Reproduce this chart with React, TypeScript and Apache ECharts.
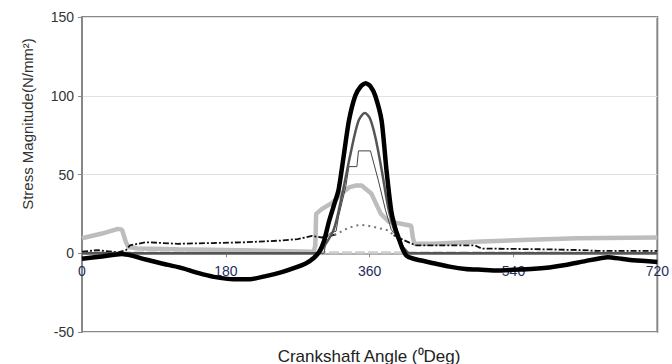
import React, { useEffect, useRef } from "react";
import * as echarts from "echarts";

const xTicks = [0, 180, 360, 540, 720];
const yTicks = [-50, 0, 50, 100, 150];

// Thick black series
const blackAngle = [0, 25, 50, 62, 80, 100, 122, 145, 165, 190, 210, 230, 250, 265, 280, 290, 297, 303, 309, 315, 321, 327, 334, 342, 349, 355, 361, 367, 375, 381, 387, 392, 396, 401, 406, 415, 437, 460, 480, 500, 520, 540, 562, 585, 605, 630, 658, 675, 690, 720];
const blackValue = [-3.5, -2, -0.5, -1.5, -4, -6.5, -9, -12.5, -15, -16.5, -16.5, -14.5, -12, -9.5, -6.5, -3, 1, 8, 20, 30, 40, 60, 84, 100, 106, 108, 106, 100, 84, 53, 27, 16, 10, 3, -1.5, -3.5, -6, -8.5, -10, -10.5, -11, -10.5, -10, -9, -7.5, -5, -2.5, -3.5, -4.5, -5.5];

// Dark grey medium series
const darkAngle = [0, 296, 300, 315, 325, 336, 346, 354, 360, 367, 375, 384, 392, 400, 405, 410, 720];
const darkValue = [0, 0, 2, 15, 36, 63, 84, 89, 86, 74, 53, 27, 13, 5, 2, 0, 0];

// Thin stepped series
const thinAngle = [0, 303, 306, 311, 318, 321, 330, 334, 344, 346, 361, 371, 380, 387, 390, 396, 398, 402, 406, 720];
const thinValue = [0, 0, 10, 13, 14, 23, 42, 55, 55, 65, 65, 46, 27, 15, 13, 13, 8, 2, 0, 0];

// Light grey thick series
const lightAngle = [0, 25, 45, 50, 55, 58, 70, 120, 180, 240, 290, 292, 293, 300, 313, 325, 335, 343, 350, 362, 374, 384, 396, 412, 414, 416, 440, 500, 560, 620, 720];
const lightValue = [9.5, 12.5, 15.5, 15, 7, 4, 3, 2.5, 2, 1.5, 1, 5, 25, 28, 32, 38, 42, 43, 43, 38, 25, 20, 19, 17.5, 10, 6, 6, 7.5, 8.5, 9.5, 10];

// Dash-dot black series (gap where the dotted arc is)
const dashAngle = [0, 20, 45, 55, 60, 80, 120, 165, 205, 247, 270, 288, 300, 310, 318, 320, 388, 390, 400, 413, 417, 492, 500, 580, 624, 645, 720];
const dashValue: (number | null)[] = [1, 2, 0.5, 2, 5, 7, 6, 6.5, 7, 8, 9, 11, 10, 11, 12, null, null, 11.5, 9, 6, 5, 5, 3, 2.5, 2, 1.5, 1.5];

// Dotted grey arc near the peak
const dotAngle = [316, 325, 333, 342, 350, 358, 367, 375, 383, 390];
const dotValue = [11.5, 14, 16, 17.5, 18, 17.5, 16.5, 15.5, 14.5, 11.5];

// Pale dashed base series
const paleAngle = [0, 720];
const paleValue = [0.5, 0.5];

const pairs = (a: number[], v: (number | null)[]) =>
  a.map((x, i) => [x, v[i] === null ? "-" : v[i]]);

export default function App() {
  const ref = useRef<HTMLDivElement>(null);
  useEffect(() => {
    if (!ref.current) return;
    const chart = echarts.init(ref.current, null, { renderer: "svg" });
    const font = "'Liberation Sans', Arial, sans-serif";
    const gridTop = 17;
    const gridBottom = 32;
    const gridH = 364 - gridTop - gridBottom;
    const yMin = yTicks[0];
    const yMax = yTicks[yTicks.length - 1];
    const zeroOffset = -(gridH * (0 - yMin)) / (yMax - yMin);
    chart.setOption({
      animation: false,
      backgroundColor: "#ffffff",
      grid: {
        left: 82,
        right: 12,
        top: gridTop,
        bottom: gridBottom,
        show: true,
        borderColor: "#888",
        borderWidth: 2,
      },
      xAxis: {
        type: "value",
        position: "bottom",
        offset: zeroOffset,
        min: xTicks[0],
        max: xTicks[xTicks.length - 1],
        interval: 180,
        axisLine: { onZero: false, lineStyle: { color: "#999", width: 1.5 } },
        axisTick: { show: true, length: 4, lineStyle: { color: "#888" } },
        splitLine: { show: false },
        axisLabel: {
          color: "#1f2d5c",
          fontSize: 14,
          fontFamily: font,
          margin: 11,
          showMaxLabel: true,
          showMinLabel: true,
        },
      },
      yAxis: {
        type: "value",
        min: yMin,
        max: yMax,
        interval: 50,
        axisLine: { show: true, onZero: false, lineStyle: { color: "#888", width: 2 } },
        axisTick: { show: true, length: 4, lineStyle: { color: "#888" } },
        splitLine: { show: true, lineStyle: { color: "#e2e2e2", width: 1 } },
        axisLabel: { color: "#333", fontSize: 14, fontFamily: font, margin: 8 },
      },
      graphic: [
        {
          type: "text",
          x: 27,
          y: 124,
          rotation: Math.PI / 2,
          style: {
            text: "Stress Magnitude(N/mm²)",
            fill: "#333",
            font: `15px ${font}`,
            textAlign: "center",
            textVerticalAlign: "middle",
          },
        },
        {
          type: "text",
          x: 369,
          y: 356,
          style: {
            text: "Crankshaft Angle (⁰Deg)",
            fill: "#222",
            font: `17px ${font}`,
            textAlign: "center",
            textVerticalAlign: "middle",
          },
        },
      ],
      series: [
        {
          type: "line",
          name: "pale",
          data: pairs(paleAngle, paleValue),
          showSymbol: false,
          lineStyle: { color: "#cfcfcf", width: 2.5, type: [10, 3] },
          z: 1,
        },
        {
          type: "line",
          name: "light",
          data: pairs(lightAngle, lightValue),
          showSymbol: false,
          lineStyle: { color: "#bdbdbd", width: 4.5 },
          z: 2,
        },
        {
          type: "line",
          name: "dashdot",
          data: pairs(dashAngle, dashValue),
          showSymbol: false,
          connectNulls: false,
          lineStyle: { color: "#111", width: 1.8, type: [6, 2, 2, 2] },
          z: 3,
        },
        {
          type: "line",
          name: "dotted",
          data: pairs(dotAngle, dotValue),
          showSymbol: false,
          lineStyle: { color: "#777", width: 2, type: [2, 4] },
          z: 3,
        },
        {
          type: "line",
          name: "thin",
          data: pairs(thinAngle, thinValue),
          showSymbol: false,
          lineStyle: { color: "#444", width: 1 },
          z: 4,
        },
        {
          type: "line",
          name: "dark",
          data: pairs(darkAngle, darkValue),
          showSymbol: false,
          smooth: 0.3,
          lineStyle: { color: "#555", width: 2.5 },
          z: 5,
        },
        {
          type: "line",
          name: "black",
          data: pairs(blackAngle, blackValue),
          showSymbol: false,
          smooth: 0.2,
          lineStyle: { color: "#000", width: 4.5 },
          z: 6,
        },
      ],
    });
    return () => chart.dispose();
  }, []);
  return (
    <div
      ref={ref}
      style={{ position: "fixed", left: 0, top: 0, width: 672, height: 364 }}
    />
  );
}
